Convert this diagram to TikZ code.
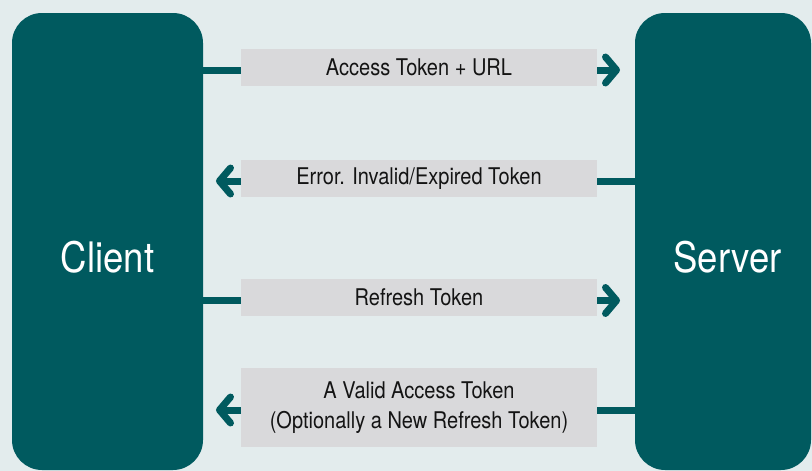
\documentclass[tikz,border=0pt]{standalone}
\usepackage{fontspec}
\setmainfont{TeX Gyre Heros}[FakeStretch=0.87]
\usetikzlibrary{arrows.meta,positioning}

\definecolor{bgcol}{HTML}{E3ECED}
\definecolor{tealcol}{HTML}{005A5F}
\definecolor{boxcol}{HTML}{D9D9DB}
\definecolor{txtcol}{HTML}{141414}

\tikzset{
  party/.style={rectangle,rounded corners=30pt,fill=tealcol,minimum width=191pt,minimum height=457pt,inner sep=0pt},
  partytext/.style={text=white,font=\fontsize{42}{48}\selectfont,inner sep=0pt},
  msg/.style={rectangle,fill=boxcol,text=txtcol,minimum width=356pt,minimum height=37pt,inner sep=0pt,align=center,font=\fontsize{23}{30}\selectfont},
  wire/.style={draw=tealcol,line width=7pt},
  flow/.style={wire,-{Straight Barb[length=11pt,width=26pt,round]}}
}

\begin{document}
\begin{tikzpicture}[x=1pt,y=-1pt]
\useasboundingbox (0,0) rectangle (812,471);
\fill[bgcol] (0,0) rectangle (812,471);

\node[party] (client) at (107.5,241.5) {};
\node[party,minimum width=176pt] (server) at (723,241.5) {};
\node[partytext] (clienttxt) at (107.5,257) {Client};
\node[partytext] (servertxt) at (727.5,257) {Server};

\node[msg] (req) at (419,67.5) {Access Token + URL};
\node[msg] (err) at (419,178.5) {Error. Invalid/Expired Token};
\node[msg] (ref) at (419,297.5) {Refresh Token};
\node[msg,minimum height=79pt] (ans) at (419,407.5) {A Valid Access Token\\(Optionally a New Refresh Token)};

\coordinate (tipreq) at (620,70);
\coordinate (tiperr) at (216,181);
\coordinate (tipref) at (620,300.5);
\coordinate (tipans) at (216,410);

\draw[wire] (client.east |- tipreq) -- ([yshift=-2.5pt]req.west);
\draw[flow] ([yshift=-2.5pt]req.east) -- (tipreq);
\draw[wire] (server.west |- tiperr) -- ([yshift=-2.5pt]err.east);
\draw[flow] ([yshift=-2.5pt]err.west) -- (tiperr);
\draw[wire] (client.east |- tipref) -- ([yshift=-3pt]ref.west);
\draw[flow] ([yshift=-3pt]ref.east) -- (tipref);
\draw[wire] (server.west |- tipans) -- ([yshift=-2.5pt]ans.east);
\draw[flow] ([yshift=-2.5pt]ans.west) -- (tipans);

\end{tikzpicture}
\end{document}
